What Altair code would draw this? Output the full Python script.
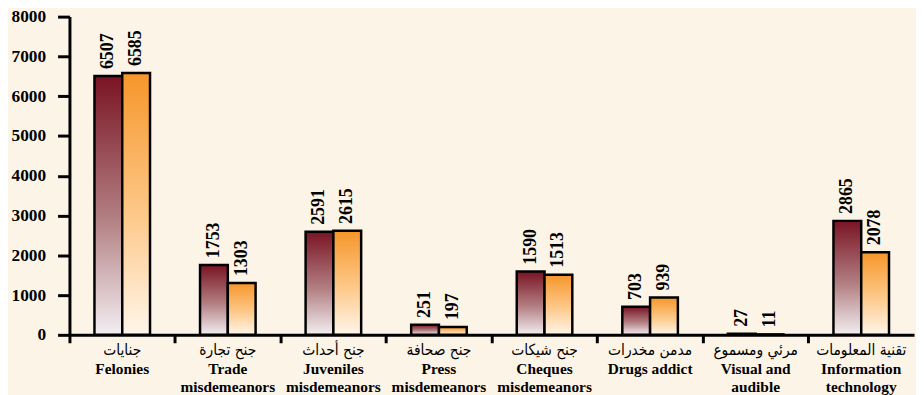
import altair as alt
import pandas as pd

cats_en = ["Felonies", "Trade\nmisdemeanors", "Juveniles\nmisdemeanors", "Press\nmisdemeanors",
           "Cheques\nmisdemeanors", "Drugs addict", "Visual and\naudible", "Information\ntechnology"]
cats_ar = ["جنايات", "جنح تجارة", "جنح أحداث", "جنح صحافة", "جنح شيكات",
           "مدمن مخدرات", "مرئي ومسموع", "تقنية المعلومات"]
series_a = [6507, 1753, 2591, 251, 1590, 703, 27, 2865]
series_b = [6585, 1303, 2615, 197, 1513, 939, 11, 2078]
series_names = ["s1", "s2"]
y_ticks = [0, 1000, 2000, 3000, 4000, 5000, 6000, 7000, 8000]

rows = []
for en, ar, a, b in zip(cats_en, cats_ar, series_a, series_b):
    rows.append({"en": en, "ar": ar, "s": "s1", "v": a})
    rows.append({"en": en, "ar": ar, "s": "s2", "v": b})
df = pd.DataFrame(rows)
df_ar = pd.DataFrame({"ar": cats_ar})

SERIF = "Liberation Serif"

x_enc = alt.X("en:N", sort=cats_en,
              scale=alt.Scale(paddingInner=0, paddingOuter=0),
              axis=alt.Axis(title=None, labelAngle=0, labelExpr="split(datum.label, '\\n')",
                            labelFont=SERIF, labelFontWeight="bold", labelFontSize=15.5,
                            labelLineHeight=18, labelColor="black", labelPadding=19,
                            labelOverlap=False, labelBound=False, labelLimit=0,
                            bandPosition=0, tickSize=8, tickWidth=3, tickColor="black",
                            domainColor="black", domainWidth=3))
xo_enc = alt.XOffset("s:N", scale=alt.Scale(domain=series_names, paddingOuter=0.9, paddingInner=0))
y_enc = alt.Y("v:Q", scale=alt.Scale(domain=[0, 8000], nice=False),
              axis=alt.Axis(title=None, values=y_ticks, format="d", grid=False, labelFont=SERIF,
                            labelFontWeight="bold", labelFontSize=17.5, labelColor="black",
                            labelPadding=12, tickSize=12, tickWidth=3, tickColor="black",
                            domainColor="black", domainWidth=3))

grad1 = alt.LinearGradient(gradient="linear", x1=0, x2=0, y1=0, y2=1,
                           stops=[alt.GradientStop(color="#7a1424", offset=0),
                                  alt.GradientStop(color="#b27f82", offset=0.55),
                                  alt.GradientStop(color="#f3eef2", offset=1)])
grad2 = alt.LinearGradient(gradient="linear", x1=0, x2=0, y1=0, y2=1,
                           stops=[alt.GradientStop(color="#f6962a", offset=0),
                                  alt.GradientStop(color="#fdc98a", offset=0.55),
                                  alt.GradientStop(color="#fff6ea", offset=1)])

base = alt.Chart(df)
bars1 = base.transform_filter(alt.datum.s == "s1").mark_bar(
    fill=grad1, stroke="black", strokeWidth=2.5).encode(x=x_enc, xOffset=xo_enc, y=y_enc)
bars2 = base.transform_filter(alt.datum.s == "s2").mark_bar(
    fill=grad2, stroke="black", strokeWidth=2.5).encode(x=x_enc, xOffset=xo_enc, y=y_enc)
labels = base.mark_text(angle=270, align="left", baseline="middle", dx=7,
                        font=SERIF, fontWeight="bold", fontSize=18, color="black").encode(
    x=x_enc, xOffset=xo_enc, y=y_enc, text=alt.Text("v:Q", format="d"))

inner = alt.layer(bars1, bars2, labels)

arabic = alt.Chart(df_ar).mark_point(opacity=0).encode(
    x=alt.X("ar:N", sort=cats_ar,
            scale=alt.Scale(type="band", paddingInner=0, paddingOuter=0),
            axis=alt.Axis(title=None, orient="bottom", labelAngle=0, domain=False, ticks=False,
                          labelFont="DejaVu Sans Condensed, DejaVu Sans", labelFontSize=15.5,
                          labelColor="black",
                          labelPadding=8, labelOverlap=False, labelBound=False, labelLimit=0)),
    y=alt.value(0))

chart = alt.layer(inner, arabic).resolve_scale(x="independent").properties(
    width=852, height=321,
    autosize=alt.AutoSizeParams(type="none"),
    padding={"left": 62, "top": 7, "right": 2, "bottom": 59},
    background="#fdf4e8",
).configure_view(stroke=None)

chart.save("out.html", embed_options={"renderer": "svg", "actions": False})
